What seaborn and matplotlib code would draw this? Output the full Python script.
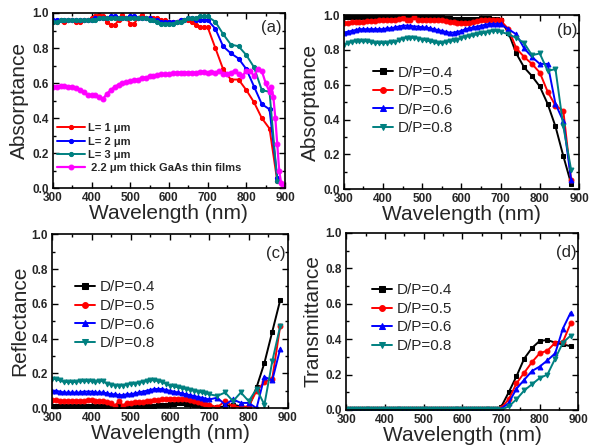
import matplotlib
matplotlib.use("Agg")
import matplotlib.pyplot as plt
import matplotlib.ticker as ticker
import seaborn as sns

# wavelength grid (nm): 10 nm steps to 700, then 20 nm steps
wl = [300, 310, 320, 330, 340, 350, 360, 370, 380, 390,
      400, 410, 420, 430, 440, 450, 460, 470, 480, 490,
      500, 510, 520, 530, 540, 550, 560, 570, 580, 590,
      600, 610, 620, 630, 640, 650, 660, 670, 680, 690,
      700, 720, 740, 760, 780, 800, 820, 840, 860, 880]

# (a) absorptance vs nanowire length
a_l1 = [0.95, 0.95, 0.96, 0.95, 0.96, 0.96, 0.95, 0.95, 0.96, 0.96,
        0.97, 0.98, 0.99, 0.98, 0.95, 0.93, 0.93, 0.96, 0.99, 0.97,
        0.94, 0.94, 0.97, 0.99, 0.97, 0.97, 0.97, 0.97, 0.96, 0.96,
        0.95, 0.95, 0.95, 0.96, 0.96, 0.96, 0.95, 0.93, 0.92, 0.92,
        0.92, 0.80, 0.68, 0.62, 0.62, 0.56, 0.49, 0.40, 0.34, 0.04]
a_l2 = [0.96, 0.96, 0.96, 0.96, 0.96, 0.96, 0.96, 0.96, 0.96, 0.96,
        0.96, 0.97, 0.97, 0.97, 0.97, 0.98, 0.98, 0.97, 0.97, 0.97,
        0.98, 0.98, 0.97, 0.97, 0.97, 0.97, 0.96, 0.96, 0.95, 0.95,
        0.95, 0.95, 0.95, 0.96, 0.96, 0.97, 0.97, 0.96, 0.96, 0.96,
        0.96, 0.91, 0.81, 0.77, 0.74, 0.68, 0.58, 0.48, 0.45, 0.06]
a_l3 = [0.95, 0.95, 0.96, 0.96, 0.96, 0.96, 0.96, 0.96, 0.96, 0.96,
        0.96, 0.96, 0.97, 0.97, 0.97, 0.97, 0.97, 0.97, 0.97, 0.97,
        0.97, 0.97, 0.97, 0.97, 0.97, 0.96, 0.96, 0.95, 0.94, 0.94,
        0.94, 0.94, 0.95, 0.95, 0.96, 0.97, 0.97, 0.97, 0.98, 0.98,
        0.98, 0.95, 0.88, 0.82, 0.81, 0.76, 0.69, 0.56, 0.55, 0.04]
wl_film = [300, 310, 320, 330, 340, 350, 360, 370, 380, 390,
           400, 410, 420, 430, 440, 450, 460, 470, 480, 490,
           500, 510, 520, 530, 540, 550, 560, 570, 580, 590,
           600, 610, 620, 630, 640, 650, 660, 670, 680, 690,
           700, 710, 720, 730, 740, 750, 760, 770, 780, 790,
           800, 810, 820, 830, 840, 850, 860, 865, 870, 875,
           880, 885, 890, 895, 900]
a_film = [0.58, 0.58, 0.585, 0.585, 0.58, 0.58, 0.57, 0.56, 0.55, 0.53,
          0.53, 0.53, 0.52, 0.51, 0.54, 0.56, 0.58, 0.59, 0.60, 0.605,
          0.61, 0.62, 0.62, 0.63, 0.63, 0.64, 0.64, 0.645, 0.65, 0.65,
          0.65, 0.655, 0.66, 0.66, 0.66, 0.66, 0.66, 0.66, 0.665, 0.665,
          0.66, 0.665, 0.66, 0.67, 0.65, 0.65, 0.66, 0.67, 0.65, 0.64,
          0.67, 0.67, 0.64, 0.68, 0.67, 0.60, 0.55, 0.58, 0.52, 0.40,
          0.25, 0.10, 0.03, 0.01, 0.0]

# (b) absorptance vs D/P
b_04 = [0.99, 0.99, 0.99, 0.99, 0.99, 0.99, 0.99, 0.99, 0.99, 0.99,
        0.99, 0.99, 0.99, 0.99, 0.99, 0.99, 0.99, 0.99, 0.99, 0.99,
        0.99, 0.99, 0.99, 0.99, 0.99, 0.99, 0.985, 0.985, 0.98, 0.98,
        0.98, 0.98, 0.98, 0.98, 0.98, 0.985, 0.985, 0.985, 0.98, 0.98,
        0.97, 0.90, 0.78, 0.70, 0.65, 0.59, 0.49, 0.36, 0.19, 0.03]
b_05 = [0.955, 0.955, 0.96, 0.96, 0.96, 0.96, 0.965, 0.965, 0.965, 0.97,
        0.97, 0.97, 0.975, 0.975, 0.98, 0.985, 0.97, 0.975, 0.99, 0.97,
        0.975, 0.975, 0.975, 0.97, 0.97, 0.97, 0.965, 0.96, 0.96, 0.955,
        0.955, 0.955, 0.955, 0.96, 0.965, 0.97, 0.97, 0.975, 0.975, 0.97,
        0.97, 0.92, 0.81, 0.76, 0.72, 0.67, 0.56, 0.48, 0.45, 0.05]
b_06 = [0.90, 0.905, 0.91, 0.915, 0.92, 0.92, 0.92, 0.92, 0.92, 0.92,
        0.92, 0.925, 0.925, 0.93, 0.935, 0.94, 0.94, 0.94, 0.935, 0.935,
        0.93, 0.93, 0.925, 0.92, 0.915, 0.91, 0.905, 0.90, 0.90, 0.905,
        0.91, 0.92, 0.925, 0.93, 0.935, 0.94, 0.945, 0.95, 0.95, 0.95,
        0.95, 0.92, 0.89, 0.81, 0.76, 0.72, 0.72, 0.49, 0.39, 0.05]
b_08 = [0.83, 0.84, 0.845, 0.85, 0.85, 0.85, 0.85, 0.845, 0.84, 0.84,
        0.84, 0.84, 0.845, 0.845, 0.855, 0.865, 0.87, 0.87, 0.87, 0.865,
        0.86, 0.855, 0.85, 0.845, 0.84, 0.84, 0.845, 0.85, 0.855, 0.86,
        0.87, 0.875, 0.88, 0.885, 0.89, 0.895, 0.90, 0.905, 0.91, 0.91,
        0.905, 0.89, 0.87, 0.84, 0.77, 0.78, 0.68, 0.69, 0.36, 0.11]

# (c) reflectance
c_04 = [0.01, 0.01, 0.01, 0.01, 0.01, 0.01, 0.01, 0.01, 0.01, 0.01,
        0.01, 0.01, 0.01, 0.01, 0.01, 0.01, 0.01, 0.01, 0.01, 0.01,
        0.01, 0.01, 0.01, 0.015, 0.015, 0.015, 0.015, 0.02, 0.02, 0.02,
        0.025, 0.025, 0.03, 0.03, 0.025, 0.025, 0.02, 0.02, 0.015, 0.015,
        0.01, 0.005, 0.01, 0.02, 0.01, 0.005, 0.12, 0.26, 0.44, 0.62]
c_05 = [0.045, 0.045, 0.04, 0.04, 0.04, 0.04, 0.04, 0.04, 0.04, 0.045,
        0.045, 0.04, 0.04, 0.04, 0.035, 0.03, 0.015, 0.04, 0.015, 0.03,
        0.03, 0.035, 0.035, 0.035, 0.04, 0.04, 0.045, 0.045, 0.05, 0.05,
        0.055, 0.055, 0.055, 0.05, 0.05, 0.045, 0.04, 0.035, 0.03, 0.025,
        0.02, 0.005, 0.04, 0.01, 0.005, 0.01, 0.10, 0.15, 0.17, 0.47]
c_06 = [0.10, 0.10, 0.095, 0.09, 0.09, 0.09, 0.09, 0.09, 0.095, 0.095,
        0.095, 0.09, 0.09, 0.09, 0.085, 0.08, 0.08, 0.075, 0.075, 0.08,
        0.08, 0.085, 0.09, 0.095, 0.10, 0.105, 0.11, 0.11, 0.11, 0.105,
        0.10, 0.095, 0.09, 0.085, 0.08, 0.075, 0.07, 0.065, 0.06, 0.055,
        0.05, 0.06, 0.02, 0.05, 0.03, 0.03, 0.0, 0.18, 0.16, 0.34]
c_08 = [0.17, 0.165, 0.16, 0.15, 0.15, 0.15, 0.15, 0.155, 0.155, 0.155,
        0.155, 0.15, 0.155, 0.155, 0.14, 0.135, 0.13, 0.13, 0.13, 0.135,
        0.14, 0.14, 0.145, 0.15, 0.155, 0.16, 0.16, 0.155, 0.15, 0.14,
        0.13, 0.125, 0.12, 0.115, 0.11, 0.105, 0.10, 0.095, 0.09, 0.085,
        0.08, 0.07, 0.09, 0.04, 0.09, 0.04, 0.11, 0.02, 0.27, 0.47]

# (d) transmittance
d_04 = [0.005, 0.005, 0.005, 0.005, 0.005, 0.005, 0.005, 0.005, 0.005, 0.005,
        0.005, 0.005, 0.005, 0.005, 0.005, 0.005, 0.005, 0.005, 0.005, 0.005,
        0.005, 0.005, 0.005, 0.005, 0.005, 0.005, 0.005, 0.005, 0.005, 0.005,
        0.005, 0.005, 0.005, 0.005, 0.005, 0.005, 0.005, 0.005, 0.005, 0.005,
        0.015, 0.10, 0.19, 0.29, 0.35, 0.39, 0.395, 0.38, 0.37, 0.36]
d_05 = [0.005, 0.005, 0.005, 0.005, 0.005, 0.005, 0.005, 0.005, 0.005, 0.005,
        0.005, 0.005, 0.005, 0.005, 0.005, 0.005, 0.005, 0.005, 0.005, 0.005,
        0.005, 0.005, 0.005, 0.005, 0.005, 0.005, 0.005, 0.005, 0.005, 0.005,
        0.005, 0.005, 0.005, 0.005, 0.005, 0.005, 0.005, 0.005, 0.005, 0.005,
        0.01, 0.06, 0.15, 0.21, 0.27, 0.32, 0.335, 0.38, 0.385, 0.49]
d_06 = [0.005, 0.005, 0.005, 0.005, 0.005, 0.005, 0.005, 0.005, 0.005, 0.005,
        0.005, 0.005, 0.005, 0.005, 0.005, 0.005, 0.005, 0.005, 0.005, 0.005,
        0.005, 0.005, 0.005, 0.005, 0.005, 0.005, 0.005, 0.005, 0.005, 0.005,
        0.005, 0.005, 0.005, 0.005, 0.005, 0.005, 0.005, 0.005, 0.005, 0.005,
        0.005, 0.04, 0.12, 0.17, 0.22, 0.245, 0.28, 0.32, 0.46, 0.55]
d_08 = [0.005, 0.005, 0.005, 0.005, 0.005, 0.005, 0.005, 0.005, 0.005, 0.005,
        0.005, 0.005, 0.005, 0.005, 0.005, 0.005, 0.005, 0.005, 0.005, 0.005,
        0.005, 0.005, 0.005, 0.005, 0.005, 0.005, 0.005, 0.005, 0.005, 0.005,
        0.005, 0.005, 0.005, 0.005, 0.005, 0.005, 0.005, 0.005, 0.005, 0.005,
        0.0, 0.02, 0.06, 0.11, 0.145, 0.18, 0.20, 0.29, 0.38, 0.42]

dp_labels = ["D/P=0.4", "D/P=0.5", "D/P=0.6", "D/P=0.8"]
len_labels = ["L= 1 \u03bcm", "L= 2 \u03bcm", "L= 3 \u03bcm",
              " 2.2 \u03bcm thick GaAs thin films"]
x_ticks = [300, 400, 500, 600, 700, 800, 900]
y_ticks = [0.0, 0.2, 0.4, 0.6, 0.8, 1.0]

sns.set_style("ticks")
plt.rcParams['font.family'] = ['Liberation Sans', 'DejaVu Sans']

red, blue, teal, black, pink = "#ff0000", "#0000ff", "#008080", "#000000", "#ff00ff"
dp_colors = [black, red, blue, teal]
dp_markers = ["s", "o", "^", "v"]

fig = plt.figure(figsize=(6, 4.48), dpi=100)
ax_a = fig.add_axes([0.088, 0.580, 0.387, 0.391])
ax_b = fig.add_axes([0.573, 0.578, 0.392, 0.388])
ax_c = fig.add_axes([0.087, 0.089, 0.393, 0.388])
ax_d = fig.add_axes([0.577, 0.085, 0.387, 0.395])


def style(ax, ylabel, tag, tx, ty):
    ax.set_xlim(300, 900)
    ax.set_ylim(0, 1.0)
    ax.set_xticks(x_ticks)
    ax.set_xticklabels([str(v) for v in x_ticks], fontweight="bold", fontsize=8.5)
    ax.set_yticks(y_ticks)
    ax.set_yticklabels(["%.1f" % v for v in y_ticks], fontweight="bold", fontsize=8.5)
    ax.xaxis.set_minor_locator(ticker.MultipleLocator(50))
    ax.yaxis.set_minor_locator(ticker.MultipleLocator(0.1))
    ax.tick_params(which="both", direction="in", top=True, right=True,
                   color="black", width=1)
    ax.tick_params(which="major", length=4)
    ax.tick_params(axis="x", which="major", pad=3)
    ax.tick_params(axis="y", which="major", pad=3)
    ax.tick_params(which="minor", length=2)
    for s in ax.spines.values():
        s.set_color("black")
        s.set_linewidth(1.2)
    ax.set_xlabel("Wavelength (nm)", fontsize=15, labelpad=0)
    ax.set_ylabel(ylabel, fontsize=15, labelpad=2)
    ax.text(tx, ty, tag, transform=ax.transAxes, fontsize=12,
            ha="center", va="center")


# (a)
for ys, c, lab in zip([a_l1, a_l2, a_l3], [red, blue, teal], len_labels[:3]):
    sns.lineplot(x=wl, y=ys, color=c, marker="o", markersize=3, mec=c,
                 lw=1.4, ax=ax_a, label=lab)
sns.lineplot(x=wl_film, y=a_film, color=pink, marker="o", markersize=3.5,
             mec=pink, lw=1.6, ax=ax_a, label=len_labels[3])
style(ax_a, "Absorptance", "(a)", 0.94, 0.92)
ax_a.legend(loc="lower left", bbox_to_anchor=(0.0, 0.06), frameon=False,
            prop={"weight": "bold", "size": 8}, handlelength=2.5,
            handletextpad=0.3, labelspacing=0.3, borderaxespad=0)

# (b), (c), (d)
panels = [
    (ax_b, [b_04, b_05, b_06, b_08], "Absorptance", "(b)", 0.95, 0.91, (0.10, 0.745)),
    (ax_c, [c_04, c_05, c_06, c_08], "Reflectance", "(c)", 0.95, 0.89, (0.07, 0.77)),
    (ax_d, [d_04, d_05, d_06, d_08], "Transmittance", "(d)", 0.95, 0.89, (0.085, 0.75)),
]
for ax, series, ylab, tag, tx, ty, anchor in panels:
    for ys, c, m, lab in zip(series, dp_colors, dp_markers, dp_labels):
        sns.lineplot(x=wl, y=ys, color=c, marker=m, markersize=3.5, mec=c,
                     lw=1.4, ax=ax, label=lab)
    style(ax, ylab, tag, tx, ty)
    ax.legend(loc="upper left", bbox_to_anchor=anchor, frameon=False,
              fontsize=11, handlelength=1.3, handletextpad=0.3,
              labelspacing=0.3, borderaxespad=0, markerscale=1.2)

fig.savefig("out.png", dpi=100)
